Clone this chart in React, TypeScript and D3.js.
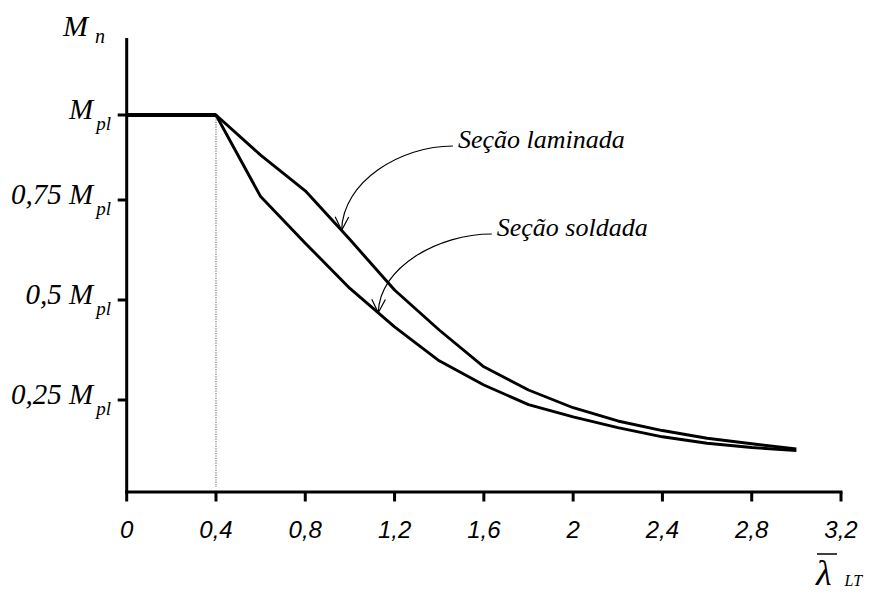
import React from "react";
import * as d3 from "d3";

// ---- data ----
const lambdaValues = [0, 0.4, 0.6, 0.8, 1.0, 1.2, 1.4, 1.6, 1.8, 2.0, 2.2, 2.4, 2.6, 2.8, 3.0];
const laminadaValues = [1, 1, 0.882, 0.777, 0.651, 0.525, 0.425, 0.333, 0.275, 0.229, 0.193, 0.167, 0.146, 0.131, 0.117];
const soldadaValues = [1, 1, 0.76, 0.642, 0.529, 0.433, 0.348, 0.2875, 0.2375, 0.204, 0.175, 0.15, 0.1325, 0.121, 0.1125];

const xTickValues = [0, 0.4, 0.8, 1.2, 1.6, 2.0, 2.4, 2.8, 3.2];
const yTickValues = [1, 0.75, 0.5, 0.25];
const yTickPrefixes = ["", "0,75", "0,5", "0,25"];

const plateauEnd = 0.4;
const yAxisTop = 1.2265;

const annotationLabels = ["Seção laminada", "Seção soldada"];
const annotationTipX = [0.963, 1.127];
const annotationTextX = [1.484, 1.658];
const annotationTextY = [0.903, 0.66];

// ---- layout ----
const W = 873;
const H = 594;
const serif = "Liberation Serif";
const sans = "Liberation Sans";

const x = d3.scaleLinear().domain([0, 3.2]).range([126.7, 841]);
const y = d3.scaleLinear().domain([0, 0.25, 0.5, 0.75, 1]).range([492, 400, 300, 200, 115]);

const series = [laminadaValues, soldadaValues].map((vals) =>
  lambdaValues.map((l, i) => ({ l, v: vals[i] }))
);

const line = d3
  .line<{ l: number; v: number }>()
  .x((d) => x(d.l))
  .y((d) => y(d.v));

function interp(vals: number[], l: number) {
  const f = d3.scaleLinear().domain(lambdaValues).range(vals);
  return f(l);
}

export default function App() {
  const x0 = x(0);
  const y0 = y(0);
  const annSeries = [laminadaValues, soldadaValues];

  return (
    <svg
      width={W}
      height={H}
      viewBox={`0 0 ${W} ${H}`}
      style={{ position: "absolute", left: 0, top: 0, background: "#fff" }}
    >
      <rect width={W} height={H} fill="#fff" />

      {/* dotted vertical line at plateau end */}
      <line
        x1={x(plateauEnd)}
        x2={x(plateauEnd)}
        y1={y(1) + 2}
        y2={y0 - 5}
        stroke="#777"
        strokeWidth={1.2}
        strokeDasharray="1.2,1.2"
      />

      {/* axes */}
      <line x1={x0} x2={x0} y1={y(yAxisTop)} y2={y0 + 1.5} stroke="#000" strokeWidth={3} />
      <line x1={x0 - 1.5} x2={x(3.2) + 1.5} y1={y0} y2={y0} stroke="#000" strokeWidth={3} />

      {/* x ticks & labels */}
      {xTickValues.map((t) => (
        <g key={t}>
          <line x1={x(t)} x2={x(t)} y1={y0} y2={y0 + 9.5} stroke="#000" strokeWidth={3} />
          <text
            x={x(t)}
            y={538}
            textAnchor="middle"
            fontFamily={sans}
            fontStyle="italic"
            fontSize={24}
            fill="#000"
          >
            {String(t).replace(".", ",")}
          </text>
        </g>
      ))}

      {/* y ticks & labels */}
      {yTickValues.map((t, i) => (
        <g key={t}>
          <line x1={x0 - 9} x2={x0} y1={y(t)} y2={y(t)} stroke="#000" strokeWidth={3} />
          <text
            x={111}
            y={y(t) + 4}
            textAnchor="end"
            fontFamily={serif}
            fontStyle="italic"
            fontSize={29}
            fill="#000"
          >
            {yTickPrefixes[i] ? yTickPrefixes[i] + " " : ""}M
            <tspan fontSize={19} dx={3} dy={11}>
              pl
            </tspan>
          </text>
        </g>
      ))}

      {/* y axis title */}
      <text x={63} y={36} fontFamily={serif} fontStyle="italic" fontSize={30} fill="#000">
        M
        <tspan fontSize={20} dx={7} dy={7}>
          n
        </tspan>
      </text>

      {/* x axis title */}
      <line x1={817} x2={837} y1={554} y2={554} stroke="#000" strokeWidth={1.5} />
      <text x={816} y={585} fontFamily={serif} fontStyle="italic" fontSize={36} fill="#000">
        λ
        <tspan fontSize={16} dx={13} dy={1}>
          LT
        </tspan>
      </text>

      {/* curves */}
      {series.map((s, i) => (
        <path key={i} d={line(s) || ""} fill="none" stroke="#000" strokeWidth={2.9} strokeLinejoin="round" />
      ))}
      {series.map((s, i) => (
        <path
          key={"p" + i}
          d={line(s.filter((d) => d.l <= plateauEnd)) || ""}
          fill="none"
          stroke="#000"
          strokeWidth={4}
        />
      ))}

      {/* annotations */}
      {annotationLabels.map((lab, i) => {
        const tx = x(annotationTextX[i]);
        const ty = y(annotationTextY[i]);
        const px = x(annotationTipX[i]);
        const py = y(interp(annSeries[i], annotationTipX[i]));
        const sx = tx - 5;
        const sy = ty - 2;
        const dx = sx - px;
        const dy = py - sy;
        const p1x = sx - 0.47 * dx;
        const p2x = px + 1;
        const p2y = py - 0.58 * dy;
        const path = `M${sx},${sy} C${p1x},${sy} ${p2x},${p2y} ${px},${py}`;
        const ang = Math.atan2(p2y - py, p2x - px);
        const len = 15;
        const a1 = ang + (27 * Math.PI) / 180;
        const a2 = ang - (27 * Math.PI) / 180;
        const arrow = `M${px + len * Math.cos(a1)},${py + len * Math.sin(a1)} L${px},${py} L${
          px + len * Math.cos(a2)
        },${py + len * Math.sin(a2)}`;
        return (
          <g key={lab}>
            <path d={path} fill="none" stroke="#000" strokeWidth={1.2} />
            <path d={arrow} fill="none" stroke="#000" strokeWidth={1.2} />
            <text x={tx} y={ty} fontFamily={serif} fontStyle="italic" fontSize={26} fill="#000">
              {lab}
            </text>
          </g>
        );
      })}
    </svg>
  );
}
